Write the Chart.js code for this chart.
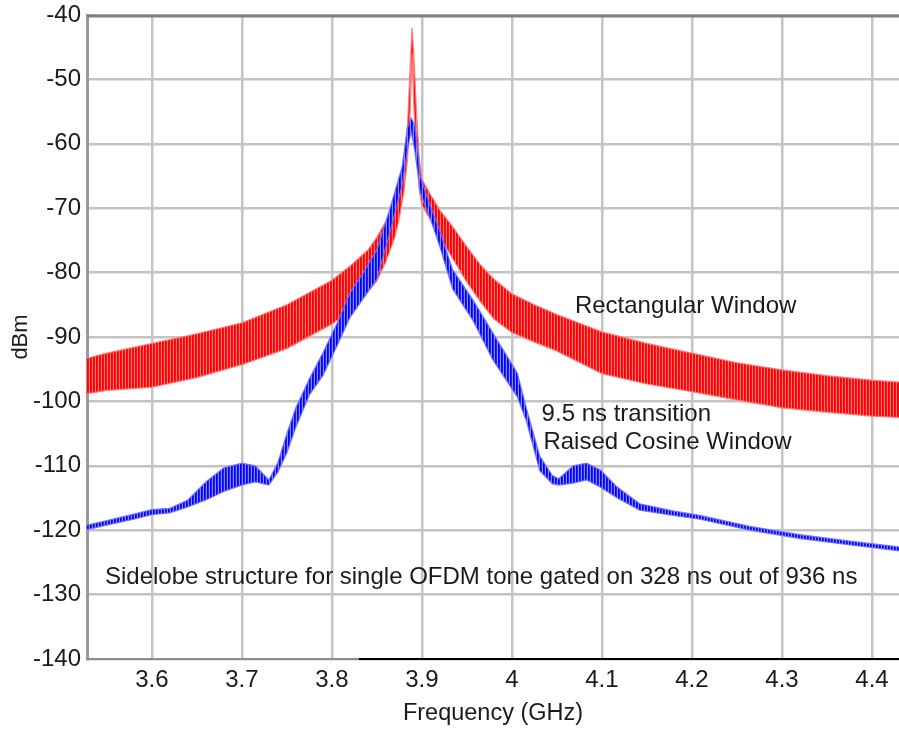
<!DOCTYPE html>
<html><head><meta charset="utf-8">
<script src="https://cdn.jsdelivr.net/npm/chart.js@4.4.1/dist/chart.umd.min.js"></script>
<style>html,body{margin:0;padding:0;background:#fff;overflow:hidden}</style>
</head><body>
<canvas id="c" width="899" height="731"></canvas>
<script>
// ---- data ----
const xTicks = [3.6, 3.7, 3.8, 3.9, 4, 4.1, 4.2, 4.3, 4.4];
const yTicks = [-140, -130, -120, -110, -100, -90, -80, -70, -60, -50, -40];

// Rectangular window trace (band: upper / lower envelope), dBm
const redFreq  = [3.528, 3.55, 3.6, 3.65, 3.7, 3.75, 3.8, 3.82, 3.84, 3.85, 3.86, 3.87, 3.875, 3.88, 3.884, 3.887, 3.889, 3.891, 3.894, 3.897, 3.9, 3.91, 3.92, 3.935, 3.95, 3.965, 3.98, 4.0, 4.025, 4.05, 4.1, 4.15, 4.2, 4.25, 4.3, 4.35, 4.4, 4.43];
const redUpper = [-93.3, -92.5, -91.0, -89.5, -87.8, -85.0, -81.2, -79.0, -76.5, -74.5, -72.0, -69.0, -67.0, -62.5, -57.0, -48.0, -42.0, -46.0, -55.0, -62.0, -65.5, -68.0, -70.3, -73.0, -76.0, -78.8, -81.0, -83.3, -85.0, -86.5, -89.2, -91.0, -92.5, -94.0, -95.1, -96.0, -96.7, -97.0];
const redLower = [-98.8, -98.3, -97.8, -96.3, -94.3, -91.8, -88.0, -86.0, -83.0, -81.3, -78.3, -74.5, -71.5, -67.5, -62.5, -55.0, -46.0, -54.0, -62.0, -67.0, -69.5, -72.0, -74.5, -78.0, -81.5, -84.5, -87.2, -89.3, -90.8, -92.2, -95.7, -97.3, -98.5, -99.8, -101.0, -101.7, -102.3, -102.5];

// 9.5 ns raised cosine window trace (band: upper / lower envelope), dBm
const blueFreq  = [3.528, 3.55, 3.58, 3.6, 3.62, 3.64, 3.66, 3.68, 3.7, 3.715, 3.73, 3.74, 3.75, 3.76, 3.775, 3.79, 3.807, 3.82, 3.835, 3.85, 3.864, 3.878, 3.884, 3.888, 3.892, 3.896, 3.898, 3.909, 3.92, 3.934, 3.957, 3.979, 4.006, 4.016, 4.031, 4.045, 4.052, 4.068, 4.083, 4.098, 4.117, 4.142, 4.179, 4.209, 4.264, 4.32, 4.376, 4.43];
const blueUpper = [-119.2, -118.5, -117.5, -116.8, -116.6, -115.3, -112.5, -110.3, -109.6, -110.0, -112.2, -109.5, -105.0, -101.0, -96.5, -92.5, -87.5, -83.2, -80.0, -76.5, -70.3, -63.6, -57.5, -56.0, -57.0, -62.0, -65.0, -69.5, -73.5, -79.5, -84.3, -89.4, -95.6, -101.0, -108.5, -111.5, -112.0, -110.0, -109.6, -110.6, -113.3, -115.9, -117.0, -117.7, -119.4, -120.7, -121.7, -122.6];
const blueLower = [-119.9, -119.2, -118.3, -117.6, -117.3, -116.4, -115.3, -114.0, -113.0, -112.5, -113.0, -111.0, -108.0, -104.0, -99.0, -96.0, -91.0, -87.0, -84.0, -81.0, -74.0, -66.5, -61.0, -58.0, -61.0, -65.0, -67.5, -71.5, -76.0, -82.5, -87.5, -93.6, -99.3, -103.0, -110.8, -112.8, -113.0, -112.7, -112.2, -113.3, -115.0, -116.9, -117.7, -118.3, -120.0, -121.3, -122.3, -123.2];

const notes = [
  {text: 'Rectangular Window', x: 4.07, y: -85.2},
  {text: '9.5 ns transition', x: 4.033, y: -102.0},
  {text: 'Raised Cosine Window', x: 4.035, y: -106.4},
  {text: 'Sidelobe structure for single OFDM tone gated on 328 ns out of 936 ns', x: 3.548, y: -127.3}
];

// ---- styles ----
function stripes(cols) {
  const c = document.createElement('canvas');
  c.width = cols.length; c.height = 1;
  const g = c.getContext('2d');
  cols.forEach((col, i) => { g.fillStyle = col; g.fillRect(i, 0, 1, 1); });
  return g.createPattern(c, 'repeat');
}
const ctx = document.getElementById('c').getContext('2d');
const redPat = stripes(['#ff0000', '#ff1010', '#ff7a7a']);
const bluePat = stripes(['#0000ff', '#2020ff', '#8a8aff']);

const pts = (xs, ys) => xs.map((x, i) => ({x: x, y: ys[i]}));
const FONT = 'Liberation Sans, Arial, Helvetica, sans-serif';
const TXT = '#1a1a1a';

const notesPlugin = {
  id: 'notes',
  afterDraw(chart) {
    const c = chart.ctx, xs = chart.scales.x, ys = chart.scales.y, a = chart.chartArea;
    c.save();
    c.lineWidth = 3; c.strokeStyle = '#808080';
    c.beginPath(); c.moveTo(a.left, a.top + 1); c.lineTo(a.right, a.top + 1); c.stroke();
    c.lineWidth = 2; c.strokeStyle = '#8c8c8c';
    c.beginPath(); c.moveTo(a.left, a.bottom); c.lineTo(xs.getPixelForValue(3.83), a.bottom); c.stroke();
    c.fillStyle = TXT;
    c.font = '24px ' + FONT;
    c.textBaseline = 'middle';
    c.textAlign = 'left';
    notes.forEach(n => c.fillText(n.text, xs.getPixelForValue(n.x), ys.getPixelForValue(n.y)));
    c.restore();
  }
};

new Chart(ctx, {
  type: 'line',
  data: {
    datasets: [
      {data: pts(blueFreq, blueUpper), borderColor: 'rgba(110,110,255,0.9)', borderWidth: 1.2, pointRadius: 0, fill: false},
      {data: pts(blueFreq, blueLower), borderColor: 'rgba(110,110,255,0.9)', borderWidth: 1.2, pointRadius: 0, fill: '-1', backgroundColor: bluePat},
      {data: pts(redFreq, redUpper), borderColor: 'rgba(255,120,120,0.9)', borderWidth: 1.2, pointRadius: 0, fill: false},
      {data: pts(redFreq, redLower), borderColor: 'rgba(255,120,120,0.9)', borderWidth: 1.2, pointRadius: 0, fill: '-1', backgroundColor: redPat}
    ]
  },
  options: {
    responsive: false,
    animation: false,
    devicePixelRatio: 1,
    layout: {padding: {top: 15, right: 0, left: 0, bottom: 0}},
    plugins: {legend: {display: false}, tooltip: {enabled: false}},
    elements: {line: {tension: 0}},
    scales: {
      x: {
        type: 'linear', min: 3.528, max: 4.43,
        afterBuildTicks: s => { s.ticks = xTicks.map(v => ({value: v})); },
        afterFit: s => { s.height = 72; s.paddingLeft = 0; s.paddingRight = 0; },
        ticks: {callback: v => String(v), color: TXT, font: {family: FONT, size: 24}, padding: 7, maxRotation: 0, autoSkip: false},
        grid: {color: '#c4c4c4', lineWidth: 2.5, drawTicks: false},
        border: {display: true, color: '#000000', width: 2},
        title: {display: true, text: 'Frequency (GHz)', color: TXT, font: {family: FONT, size: 23.5}, padding: {top: 0, bottom: 3}}
      },
      y: {
        type: 'linear', min: -140, max: -40,
        afterBuildTicks: s => { s.ticks = yTicks.map(v => ({value: v})); },
        afterFit: s => { s.width = 87; s.paddingTop = 0; s.paddingBottom = 0; },
        ticks: {color: TXT, font: {family: FONT, size: 24}, padding: 6, autoSkip: false},
        grid: {color: '#c4c4c4', lineWidth: 2.5, drawTicks: false},
        border: {display: true, color: '#9a9a9a', width: 3},
        title: {display: true, text: 'dBm', color: TXT, font: {family: FONT, size: 22}, padding: {top: 8, bottom: 0}}
      }
    }
  },
  plugins: [notesPlugin]
});
</script>
</body></html>
